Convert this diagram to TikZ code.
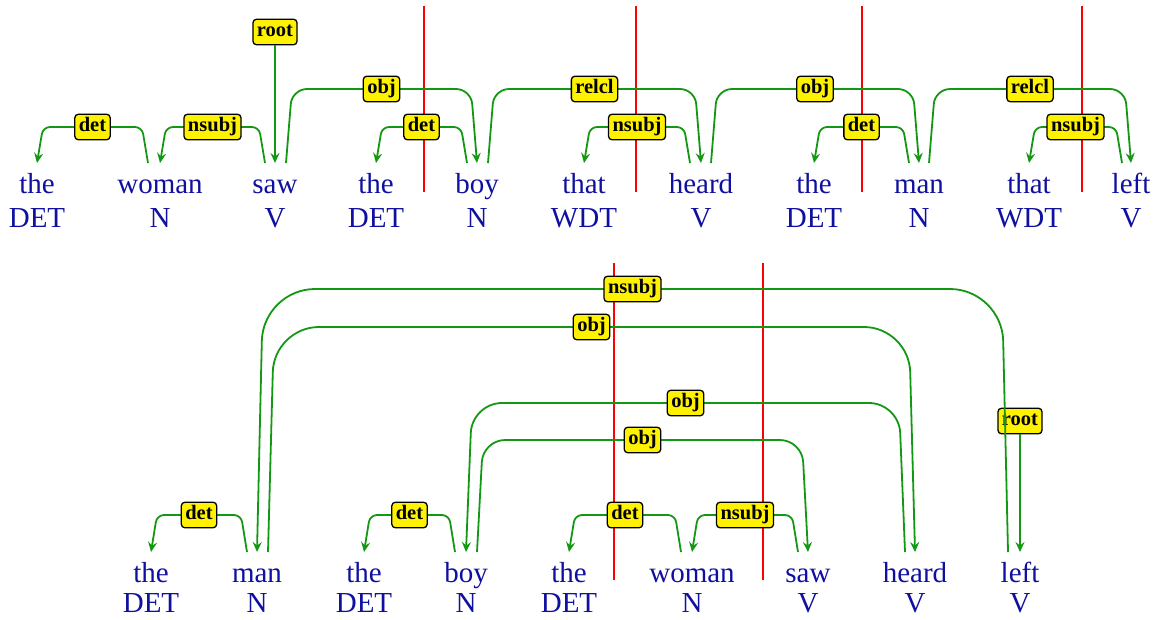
\documentclass[tikz,border=0pt]{standalone}
\usepackage{fontspec}
\setmainfont{Liberation Serif}
\usetikzlibrary{calc,arrows.meta}
\definecolor{wordblue}{RGB}{16,16,160}
\definecolor{edgegreen}{RGB}{20,152,20}
\tikzset{
  word/.style={anchor=base,inner sep=0pt,text=wordblue,font=\fontsize{29}{29}\selectfont},
  tag/.style={word,text depth=0pt},
  lab/.style={fill=yellow,draw=black,line width=1.3pt,rounded corners=3.5pt,text=black,
    font=\fontsize{20.5}{20.5}\selectfont\bfseries,inner xsep=4pt,inner ysep=3.5pt,text height=14pt,text depth=4.5pt},
  depline/.style={draw=edgegreen,line width=1.8pt,-{Stealth[length=10pt,width=9pt,inset=3.5pt]}},
  redline/.style={draw=red,line width=2.4pt}
}
% #1 source node, #2 source dx, #3 target node, #4 target dx, #5 level (px from top), #6 label, #7 corner radius, #8 direction
\newcommand\dep[8]{%
  \draw[depline,rounded corners=#7pt] let \p1=($(#1.base)+(#2,30)$), \p2=($(#3.base)+(#4,30)$) in
    (\p1) -- ({\x1+(#8)*6pt},{-#5pt}) -- node[lab]{#6} ({\x2-(#8)*6pt},{-#5pt}) -- (\p2);}
\begin{document}
\begin{tikzpicture}[x=1pt,y=1pt]
\useasboundingbox (0,0) rectangle (1158,-619);
% ---------- top row ----------
\foreach \n/\x/\w/\t in {a1/37/the/DET, a2/160/woman/N, a3/275/saw/V, a4/376/the/DET, a5/477/boy/N, a6/584/that/WDT, a7/701/heard/V, a8/814/the/DET, a9/919/man/N, a10/1029/that/WDT, a11/1131/left/V}{
  \node[word] (\n) at (\x,-193) {\w};
  \node[tag] (\n t) at (\x,-227) {\t};
}
\draw[redline] (424,-6) coordinate (r1a) -- (424,-192) coordinate (r1b);
\draw[redline] (636,-6) coordinate (r2a) -- (636,-192) coordinate (r2b);
\draw[redline] (862,-6) coordinate (r3a) -- (862,-192) coordinate (r3b);
\draw[redline] (1082,-6) coordinate (r4a) -- (1082,-192) coordinate (r4b);
\node[lab] (rootA) at (275,-32) {root};
\draw[depline] (rootA.south) -- ($(a3.base)+(0,30)$);
\dep{a2}{-12}{a1}{0}{127}{det}{7}{-1}
\dep{a3}{-10}{a2}{0}{127}{nsubj}{7}{-1}
\dep{a3}{11}{a5}{0}{89}{obj}{15}{1}
\dep{a5}{-10}{a4}{0}{127}{det}{7}{-1}
\dep{a5}{11}{a7}{0}{89}{relcl}{15}{1}
\dep{a7}{-11}{a6}{0}{127}{nsubj}{7}{-1}
\dep{a7}{10}{a9}{0}{89}{obj}{15}{1}
\dep{a9}{-10}{a8}{0}{127}{det}{7}{-1}
\dep{a9}{10}{a11}{0}{89}{relcl}{15}{1}
\dep{a11}{-9}{a10}{0}{127}{nsubj}{7}{-1}
% ---------- bottom row ----------
\foreach \n/\x/\w/\t in {b1/151/the/DET, b2/257/man/N, b3/364/the/DET, b4/466/boy/N, b5/569/the/DET, b6/692/woman/N, b7/808/saw/V, b8/915/heard/V, b9/1020/left/V}{
  \node[word] (\n) at (\x,-582) {\w};
  \node[tag] (\n t) at (\x,-612) {\t};
}
\draw[redline] (614,-263) coordinate (r5a) -- (614,-580) coordinate (r5b);
\draw[redline] (763,-263) coordinate (r6a) -- (763,-580) coordinate (r6b);
\node[lab] (rootB) at (1020,-421) {root};
\draw[depline] (rootB.south) -- ($(b9.base)+(0,30)$);
\dep{b2}{-10}{b1}{0}{515}{det}{7}{-1}
\dep{b9}{-12}{b2}{0}{289}{nsubj}{52}{-1}
\dep{b2}{11}{b8}{0}{327}{obj}{45}{1}
\dep{b4}{-11}{b3}{0}{515}{det}{7}{-1}
\dep{b8}{-10}{b4}{0}{403}{obj}{30}{-1}
\dep{b4}{11}{b7}{0}{440}{obj}{22}{1}
\dep{b6}{-11}{b5}{0}{515}{det}{7}{-1}
\dep{b7}{-10}{b6}{0}{515}{nsubj}{7}{-1}
\end{tikzpicture}
\end{document}
